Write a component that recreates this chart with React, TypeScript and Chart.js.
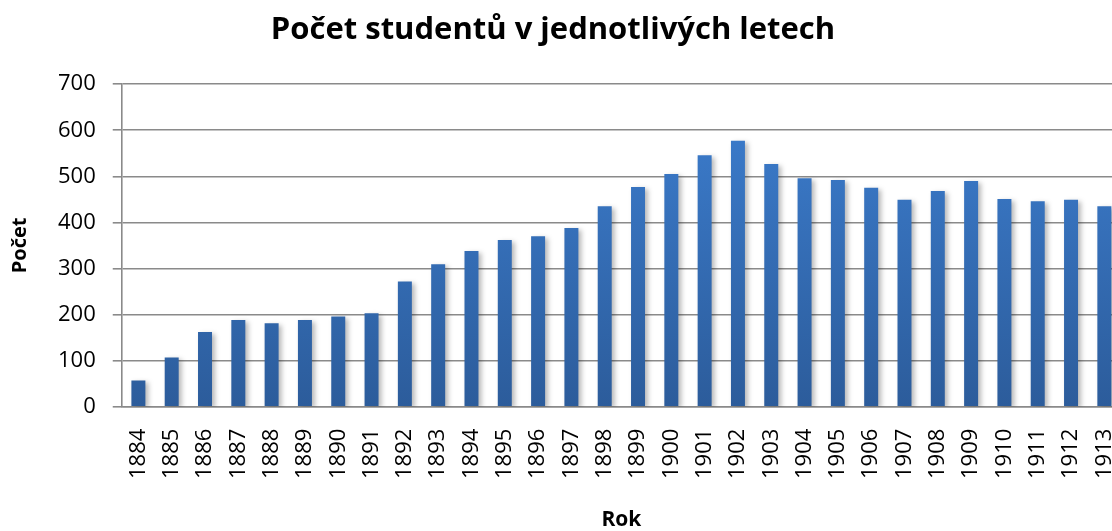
import React, { useEffect, useRef } from "react";
import { Chart, registerables } from "chart.js";

Chart.register(...registerables);

const years: string[] = [
  "1884", "1885", "1886", "1887", "1888", "1889", "1890", "1891", "1892", "1893",
  "1894", "1895", "1896", "1897", "1898", "1899", "1900", "1901", "1902", "1903",
  "1904", "1905", "1906", "1907", "1908", "1909", "1910", "1911", "1912", "1913",
];
const students: number[] = [
  57, 107, 162, 188, 181, 188, 196, 203, 272, 309,
  338, 362, 370, 388, 435, 477, 505, 546, 577, 527,
  496, 492, 475, 449, 468, 490, 451, 446, 449, 435,
];
const yTicks: number[] = [0, 100, 200, 300, 400, 500, 600, 700];

const chartTitle = "Počet studentů v jednotlivých letech";
const xTitle = "Rok";
const yTitle = "Počet";

const shadowPlugin = {
  id: "barShadow",
  beforeDatasetsDraw(chart: any) {
    const ctx = chart.ctx;
    ctx.save();
    ctx.shadowColor = "rgba(0,0,0,0.28)";
    ctx.shadowBlur = 5;
    ctx.shadowOffsetX = 3;
    ctx.shadowOffsetY = 2;
  },
  afterDatasetsDraw(chart: any) {
    chart.ctx.restore();
  },
};

export default function App() {
  const canvasRef = useRef<HTMLCanvasElement | null>(null);

  useEffect(() => {
    if (!canvasRef.current) return;
    const chart = new Chart(canvasRef.current, {
      type: "bar",
      data: {
        labels: years,
        datasets: [
          {
            label: yTitle,
            data: students,
            backgroundColor: (c: any) => {
              const area = c.chart.chartArea;
              if (!area) return "#3a78c6";
              const g = c.chart.ctx.createLinearGradient(0, area.top, 0, area.bottom);
              g.addColorStop(0, "#3d7fd1");
              g.addColorStop(1, "#2c5c9b");
              return g;
            },
            borderWidth: 0,
            barPercentage: 0.84,
            categoryPercentage: 0.5,
          },
        ],
      },
      options: {
        animation: false,
        responsive: true,
        maintainAspectRatio: false,
        layout: { padding: { left: -15, right: 0, top: 0, bottom: 0 } },
        plugins: {
          legend: { display: false },
          tooltip: { enabled: false },
          title: {
            display: true,
            text: chartTitle,
            color: "#000",
            font: { family: "'Open Sans', sans-serif", size: 31, weight: "bold" },
            padding: { top: 12, bottom: 35 },
          },
        },
        scales: {
          x: {
            afterFit: (scale: any) => {
              scale.paddingRight = 0;
            },
            grid: { display: false },
            border: { display: true, color: "#8a8a8a", width: 1.6 },
            ticks: {
              color: "#000",
              font: { family: "'Open Sans', sans-serif", size: 22 },
              maxRotation: 90,
              minRotation: 90,
              padding: 14,
              autoSkip: false,
            },
            title: {
              display: true,
              text: xTitle,
              color: "#000",
              font: { family: "'Open Sans', sans-serif", size: 21, weight: "bold", lineHeight: 1 },
              padding: { top: 17, bottom: 0 },
            },
          },
          y: {
            min: 0,
            max: 700,
            afterBuildTicks: (axis: any) => {
              axis.ticks = yTicks.map((v) => ({ value: v }));
            },
            grid: {
              color: "#8a8a8a",
              lineWidth: 1.6,
              tickLength: 9,
              drawTicks: true,
            },
            border: { display: true, color: "#8a8a8a", width: 1.6 },
            ticks: {
              color: "#000",
              font: { family: "'Open Sans', sans-serif", size: 22 },
              padding: 17,
            },
            title: {
              display: true,
              text: yTitle,
              color: "#000",
              font: { family: "'Open Sans', sans-serif", size: 20, weight: "bold" },
              padding: { top: 23, bottom: 9 },
            },
          },
        },
      },
      plugins: [shadowPlugin],
    } as any);
    return () => chart.destroy();
  }, []);

  return (
    <div style={{ position: "absolute", left: 0, top: 0, width: 1112, height: 531, overflow: "hidden", background: "#fff" }}>
      <div style={{ position: "relative", width: 1121, height: 531 }}>
        <canvas ref={canvasRef} />
      </div>
    </div>
  );
}
